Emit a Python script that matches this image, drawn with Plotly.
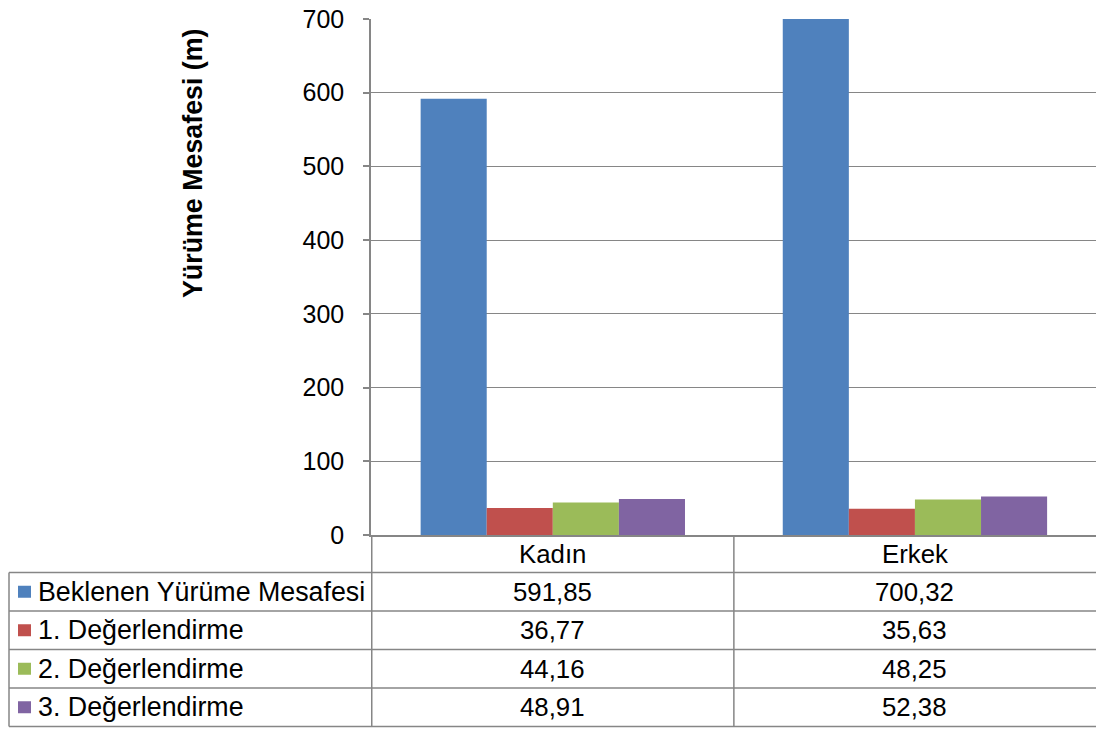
import plotly.graph_objects as go

# Data
categories = ["Kadın", "Erkek"]
series_names = [
    "Beklenen Yürüme Mesafesi",
    "1. Değerlendirme",
    "2. Değerlendirme",
    "3. Değerlendirme",
]
beklenen = [591.85, 700.32]
degerlendirme_1 = [36.77, 35.63]
degerlendirme_2 = [44.16, 48.25]
degerlendirme_3 = [48.91, 52.38]
series_values = [beklenen, degerlendirme_1, degerlendirme_2, degerlendirme_3]
colors = ["#4F81BD", "#C0504D", "#9BBB59", "#8064A2"]
y_ticks = [0, 100, 200, 300, 400, 500, 600, 700]

# Layout geometry (pixels)
W, H = 1096, 729
PL, PR, PT, PB = 371, 1096, 19, 535
LINE = "#868686"
FONT = "Liberation Sans, Arial, sans-serif"
FS = 25
FS_CELL = 25.8
FS_NAME = 26.8


def px_x(px):
    return (px - PL) / (PR - PL)


def px_y(py):
    return (PB - py) / (PB - PT)


fig = go.Figure()
for name, vals, col in zip(series_names, series_values, colors):
    fig.add_trace(go.Bar(x=categories, y=vals, name=name, marker_color=col,
                         marker_line_width=0, showlegend=False))

# Data table below the plot
row_edges = [572.5, 611, 649.5, 688, 726.5]
table_left = 9
shapes = []
for y in row_edges:
    shapes.append(dict(type="line", xref="paper", yref="paper",
                       x0=px_x(table_left), x1=1, y0=px_y(y), y1=px_y(y),
                       line=dict(color=LINE, width=1.5)))
shapes.append(dict(type="line", xref="paper", yref="paper",
                   x0=px_x(table_left), x1=px_x(table_left),
                   y0=px_y(row_edges[0]), y1=px_y(row_edges[-1]),
                   line=dict(color=LINE, width=1.5)))
for xb in [-0.5, 0.5]:
    shapes.append(dict(type="line", xref="x", yref="paper", x0=xb, x1=xb,
                       y0=0, y1=px_y(row_edges[-1]),
                       line=dict(color=LINE, width=1.5)))

annotations = []
# category header row
for c in categories:
    annotations.append(dict(x=c, xref="x", y=px_y((PB + row_edges[0]) / 2), yref="paper",
                            text=c, showarrow=False, xanchor="center", yanchor="middle",
                            font=dict(family=FONT, size=FS_CELL, color="black")))
for i, (name, vals, col) in enumerate(zip(series_names, series_values, colors)):
    yc = (row_edges[i] + row_edges[i + 1]) / 2
    shapes.append(dict(type="rect", xref="paper", yref="paper",
                       x0=px_x(18), x1=px_x(31), y0=px_y(yc - 6), y1=px_y(yc + 6),
                       fillcolor=col, line=dict(width=0)))
    annotations.append(dict(x=px_x(36), xref="paper", y=px_y(yc), yref="paper",
                            text=name, showarrow=False, xanchor="left", yanchor="middle",
                            font=dict(family=FONT, size=FS_NAME, color="black")))
    for c, v in zip(categories, vals):
        annotations.append(dict(x=c, xref="x", y=px_y(yc), yref="paper",
                                text=f"{v:.2f}".replace(".", ","), showarrow=False,
                                xanchor="center", yanchor="middle",
                                font=dict(family=FONT, size=FS_CELL, color="black")))

# y axis title
annotations.append(dict(x=px_x(193), xref="paper", y=px_y(163), yref="paper",
                        text="<b>Yürüme Mesafesi (m)</b>", textangle=-90, showarrow=False,
                        xanchor="center", yanchor="middle",
                        font=dict(family=FONT, size=FS_NAME, color="black")))

fig.update_layout(
    width=W, height=H,
    margin=dict(l=PL, r=W - PR, t=PT, b=H - PB, pad=0),
    paper_bgcolor="white", plot_bgcolor="white",
    barmode="group", bargap=0.27, bargroupgap=0,
    font=dict(family=FONT, size=FS, color="black"),
    shapes=shapes, annotations=annotations,
    xaxis=dict(showticklabels=False, ticks="", showline=True, linecolor=LINE,
               linewidth=1.5, showgrid=False, fixedrange=True),
    yaxis=dict(range=[0, 700], tickvals=y_ticks, ticktext=[str(t) for t in y_ticks],
               showgrid=True, gridcolor=LINE, gridwidth=1.2, zeroline=False,
               showline=True, linecolor=LINE, linewidth=1.5,
               ticks="outside", ticklen=6, tickcolor=LINE, tickwidth=1.5,
               ticklabelstandoff=14,
               tickfont=dict(family=FONT, size=FS, color="black")),
)

fig.write_html("out.html")
